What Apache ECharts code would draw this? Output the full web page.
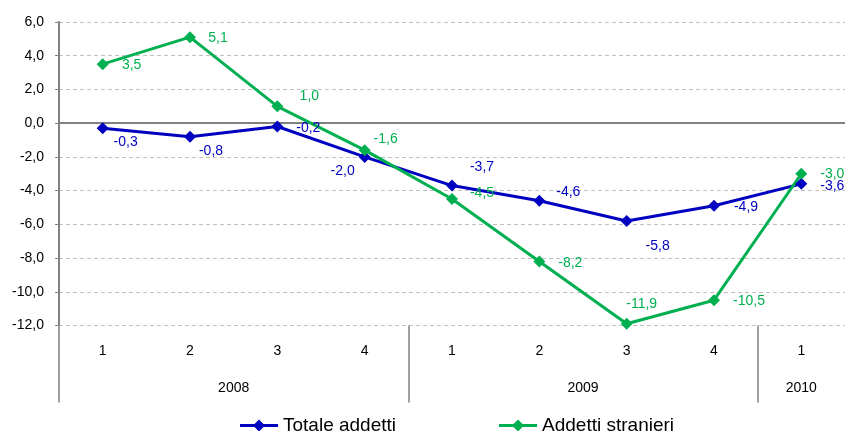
<!DOCTYPE html>
<html>
<head>
<meta charset="utf-8">
<script src="https://cdn.jsdelivr.net/npm/echarts@6/dist/echarts.min.js"></script>
<style>
  html, body { margin: 0; padding: 0; background: #fff; }
  #chart { width: 845px; height: 431px; }
</style>
</head>
<body>
<div id="chart"></div>
<script>
// Quarters and the year each group of quarters belongs to
const quarters = ['1', '2', '3', '4', '1', '2', '3', '4', '1'];
const years = ['2008', '2009', '2010'];
const yearSpans = [4, 4, 1];

// Year-on-year change (%)
const totaleAddetti = [-0.3, -0.8, -0.2, -2.0, -3.7, -4.6, -5.8, -4.9, -3.6];
const addettiStranieri = [3.5, 5.1, 1.0, -1.6, -4.5, -8.2, -11.9, -10.5, -3.0];

// Label placement around each marker (pixels)
const totaleOffsets = [[23, 14], [21, 14], [31, 2], [-22, 14], [30, -18], [29, -9], [31, 25], [32, 1], [31, 2]];
const stranieriOffsets = [[29, 1], [28, 1], [32, -10], [21, -11], [30, -6], [31, 2], [15, -20], [35, 1], [31, 0]];

const fmt = v => v.toFixed(1).replace('.', ',');
const FONT = 'Liberation Sans, Arial, sans-serif';

// Year group boundaries and centres on a 0..9 scale
const yearBounds = [0];
const yearCentres = [];
yearSpans.forEach((s, i) => {
  const start = yearBounds[i];
  yearCentres.push(start + s / 2);
  yearBounds.push(start + s);
});
// the outer right edge carries no divider
const dividerValues = yearBounds.slice(0, -1);

const BLUE = '#0000C0';
const GREEN = '#00B050';

// legend icon: a thick line with a diamond in the middle
const LEGEND_ICON = 'path://M0,4 L14.5,4 L19,-0.5 L23.5,4 L38,4 L38,7 L23.5,7 L19,11.5 L14.5,7 L0,7 Z';

function lineSeries(name, values, offsets, color) {
  return {
    name: name,
    type: 'line',
    data: values.map((v, i) => ({ value: v, label: { offset: offsets[i] } })),
    symbol: 'diamond',
    symbolSize: [12, 12],
    lineStyle: { color: color, width: 3 },
    itemStyle: { color: color },
    label: {
      show: true,
      position: 'inside',
      align: 'center',
      verticalAlign: 'middle',
      color: color,
      fontFamily: FONT,
      fontSize: 14,
      formatter: p => fmt(p.value)
    },
    emphasis: { disabled: true },
    animation: false,
    z: 3
  };
}

const chart = echarts.init(document.getElementById('chart'), null, { renderer: 'canvas' });
chart.setOption({
  backgroundColor: '#ffffff',
  animation: false,
  grid: { left: 59, right: -1, top: 22, bottom: 105.5, containLabel: false },
  legend: {
    left: 240,
    top: 416,
    padding: 0,
    itemGap: 103,
    itemWidth: 38,
    itemHeight: 12,
    textStyle: { fontFamily: FONT, fontSize: 19, color: '#000' },
    data: [
      { name: 'Totale addetti', icon: LEGEND_ICON },
      { name: 'Addetti stranieri', icon: LEGEND_ICON }
    ]
  },
  xAxis: [
    {
      // zero line
      type: 'category',
      data: quarters,
      axisLine: { show: true, onZero: true, lineStyle: { color: '#808080', width: 2 } },
      axisTick: { show: false },
      axisLabel: { show: false },
      splitLine: { show: false }
    },
    {
      // quarter labels
      type: 'category',
      data: quarters,
      position: 'bottom',
      axisLine: { show: false, onZero: false },
      axisTick: { show: false },
      axisLabel: { margin: 19, color: '#000', fontFamily: FONT, fontSize: 14 },
      splitLine: { show: false }
    },
    {
      // year groups with dividers
      type: 'value',
      min: 0,
      max: quarters.length,
      position: 'bottom',
      axisLine: { show: false, onZero: false },
      axisTick: {
        show: true,
        inside: false,
        length: 77,
        customValues: dividerValues,
        lineStyle: { color: '#A0A0A0', width: 2 }
      },
      axisLabel: {
        margin: 56,
        customValues: yearCentres,
        color: '#000',
        fontFamily: FONT,
        fontSize: 14,
        formatter: v => {
          const i = yearCentres.findIndex(c => Math.abs(c - v) < 1e-6);
          return i >= 0 ? years[i] : '';
        }
      },
      splitLine: { show: false }
    }
  ],
  yAxis: {
    type: 'value',
    min: -12,
    max: 6,
    interval: 2,
    axisLine: { show: true, lineStyle: { color: '#808080', width: 2 } },
    axisTick: { show: true, length: 4, lineStyle: { color: '#808080' } },
    axisLabel: {
      margin: 15,
      color: '#000',
      fontFamily: FONT,
      fontSize: 14,
      formatter: v => fmt(v)
    },
    splitLine: { show: true, lineStyle: { color: '#C0C0C0', type: [4, 3], width: 1 } }
  },
  series: [
    lineSeries('Totale addetti', totaleAddetti, totaleOffsets, BLUE),
    lineSeries('Addetti stranieri', addettiStranieri, stranieriOffsets, GREEN)
  ]
});
</script>
</body>
</html>
